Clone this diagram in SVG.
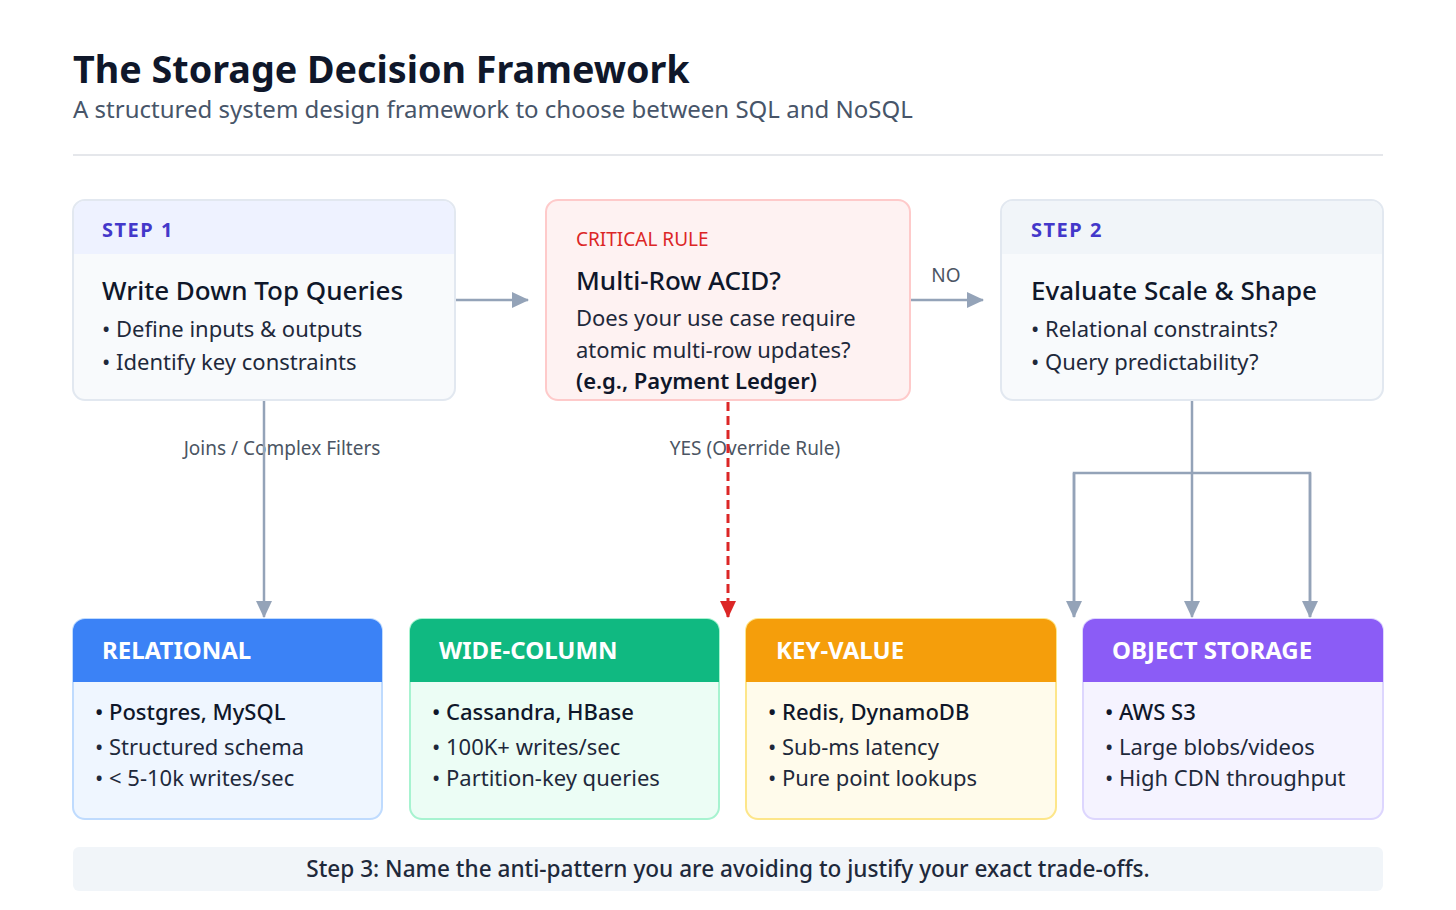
<svg xmlns="http://www.w3.org/2000/svg" width="1456" height="910" viewBox="0 0 1456 910">
  <defs>
    <marker id="arrGray" markerUnits="userSpaceOnUse" markerWidth="18" markerHeight="16" refX="16" refY="8" orient="auto">
      <path d="M0,0 L17,8 L0,16 Z" fill="#94a3b8"/>
    </marker>
    <marker id="arrRed" markerUnits="userSpaceOnUse" markerWidth="18" markerHeight="16" refX="16" refY="8" orient="auto">
      <path d="M0,0 L17,8 L0,16 Z" fill="#dc2626"/>
    </marker>
    <style>
      text { font-family: "Noto Sans", "Open Sans", "Liberation Sans", sans-serif; }
      .title { font-size: 37.7px; font-weight: 700; fill: #0f172a; }
      .sub { font-size: 24px; fill: #475569; }
      .step { font-size: 20px; font-weight: 700; fill: #4338ca; letter-spacing: 1.5px; }
      .crit { font-size: 19px; fill: #dc2626; }
      .h { font-size: 26px; fill: #0f172a; font-weight: 500; }
      .b { font-size: 22px; fill: #1e293b; }
      .bb { font-size: 22px; fill: #0f172a; font-weight: 500; }
      .lbl { font-size: 19px; fill: #4b5563; }
      .cat { font-size: 24px; font-weight: 700; fill: #ffffff; }
      .conn { fill: none; stroke: #94a3b8; stroke-width: 2.5; }
      .red { fill: none; stroke: #dc2626; stroke-width: 3; stroke-dasharray: 9 5; }
    </style>
  </defs>
  <rect x="0" y="0" width="1456" height="910" fill="#ffffff"/>

  <g id="header">
    <text class="title" x="73" y="83">The Storage Decision Framework</text>
    <text class="sub" x="73" y="118">A structured system design framework to choose between SQL and NoSQL</text>
    <line x1="73" y1="155" x2="1383" y2="155" stroke="#e5e7eb" stroke-width="2"/>
  </g>

  <g id="labels">
    <text class="lbl" x="282" y="455" text-anchor="middle">Joins / Complex Filters</text>
    <text class="lbl" x="755" y="455" text-anchor="middle">YES (Override Rule)</text>
    <text class="lbl" x="946" y="282" text-anchor="middle">NO</text>
  </g>

  <g id="connectors">
    <line class="conn" x1="455" y1="300" x2="528" y2="300" marker-end="url(#arrGray)"/>
    <line class="conn" x1="910" y1="300" x2="983" y2="300" marker-end="url(#arrGray)"/>
    <line class="conn" x1="264" y1="400" x2="264" y2="617" marker-end="url(#arrGray)"/>
    <line class="red" x1="728" y1="402" x2="728" y2="617" marker-end="url(#arrRed)"/>
    <line class="conn" x1="1192" y1="400" x2="1192" y2="617" marker-end="url(#arrGray)"/>
    <path class="conn" d="M1074,617 L1074,473 L1310,473 L1310,617"/>
    <line class="conn" x1="1074" y1="473" x2="1074" y2="617" marker-end="url(#arrGray)"/>
    <line class="conn" x1="1310" y1="473" x2="1310" y2="617" marker-end="url(#arrGray)"/>
  </g>

  <g id="step1">
    <rect x="73" y="200" width="382" height="200" rx="12" fill="#f8fafc" stroke="#e2e8f0" stroke-width="2"/>
    <path d="M74,254 L74,212 A11,11 0 0 1 85,201 L443,201 A11,11 0 0 1 454,212 L454,254 Z" fill="#eef2ff"/>
    <text class="step" x="102" y="237">STEP 1</text>
    <text class="h" x="102" y="300">Write Down Top Queries</text>
    <text class="b" x="102" y="337">• Define inputs &amp; outputs</text>
    <text class="b" x="102" y="370">• Identify key constraints</text>
  </g>

  <g id="critical">
    <rect x="546" y="200" width="364" height="200" rx="12" fill="#fef2f2" stroke="#fecaca" stroke-width="2"/>
    <text class="crit" x="576" y="246">CRITICAL RULE</text>
    <text class="h" x="576" y="290">Multi-Row ACID?</text>
    <text class="b" x="576" y="326">Does your use case require</text>
    <text class="b" x="576" y="358">atomic multi-row updates?</text>
    <text class="bb" x="576" y="389" style="font-weight:600">(e.g., Payment Ledger)</text>
  </g>

  <g id="step2">
    <rect x="1001" y="200" width="382" height="200" rx="12" fill="#f8fafc" stroke="#e2e8f0" stroke-width="2"/>
    <path d="M1002,254 L1002,212 A11,11 0 0 1 1013,201 L1371,201 A11,11 0 0 1 1382,212 L1382,254 Z" fill="#f1f5f9"/>
    <text class="step" x="1031" y="237">STEP 2</text>
    <text class="h" x="1031" y="300">Evaluate Scale &amp; Shape</text>
    <text class="b" x="1031" y="337">• Relational constraints?</text>
    <text class="b" x="1031" y="370">• Query predictability?</text>
  </g>

  <g id="relational">
    <rect x="73" y="619" width="309" height="200" rx="12" fill="#eff6ff" stroke="#bfdbfe" stroke-width="2"/>
    <path d="M73,682 L73,631 A12,12 0 0 1 85,619 L370,619 A12,12 0 0 1 382,631 L382,682 Z" fill="#3b82f6"/>
    <text class="cat" x="102" y="659">RELATIONAL</text>
    <text class="bb" x="95" y="720">• Postgres, MySQL</text>
    <text class="b" x="95" y="755">• Structured schema</text>
    <text class="b" x="95" y="786">• &lt; 5-10k writes/sec</text>
  </g>

  <g id="widecolumn">
    <rect x="410" y="619" width="309" height="200" rx="12" fill="#ecfdf5" stroke="#a7f3d0" stroke-width="2"/>
    <path d="M410,682 L410,631 A12,12 0 0 1 422,619 L707,619 A12,12 0 0 1 719,631 L719,682 Z" fill="#10b981"/>
    <text class="cat" x="439" y="659">WIDE-COLUMN</text>
    <text class="bb" x="432" y="720">• Cassandra, HBase</text>
    <text class="b" x="432" y="755">• 100K+ writes/sec</text>
    <text class="b" x="432" y="786">• Partition-key queries</text>
  </g>

  <g id="keyvalue">
    <rect x="746" y="619" width="310" height="200" rx="12" fill="#fffbeb" stroke="#fde68a" stroke-width="2"/>
    <path d="M746,682 L746,631 A12,12 0 0 1 758,619 L1044,619 A12,12 0 0 1 1056,631 L1056,682 Z" fill="#f59e0b"/>
    <text class="cat" x="776" y="659">KEY-VALUE</text>
    <text class="bb" x="768" y="720">• Redis, DynamoDB</text>
    <text class="b" x="768" y="755">• Sub-ms latency</text>
    <text class="b" x="768" y="786">• Pure point lookups</text>
  </g>

  <g id="objectstorage">
    <rect x="1083" y="619" width="300" height="200" rx="12" fill="#f5f3ff" stroke="#ddd6fe" stroke-width="2"/>
    <path d="M1083,682 L1083,631 A12,12 0 0 1 1095,619 L1371,619 A12,12 0 0 1 1383,631 L1383,682 Z" fill="#8b5cf6"/>
    <text class="cat" x="1112" y="659">OBJECT STORAGE</text>
    <text class="bb" x="1105" y="720">• AWS S3</text>
    <text class="b" x="1105" y="755">• Large blobs/videos</text>
    <text class="b" x="1105" y="786">• High CDN throughput</text>
  </g>

  <g id="footer">
    <rect x="73" y="847" width="1310" height="44" rx="6" fill="#f1f5f9"/>
    <text class="b" x="728" y="877" text-anchor="middle" style="font-size:22.6px;font-weight:500">Step 3: Name the anti-pattern you are avoiding to justify your exact trade-offs.</text>
  </g>
</svg>
